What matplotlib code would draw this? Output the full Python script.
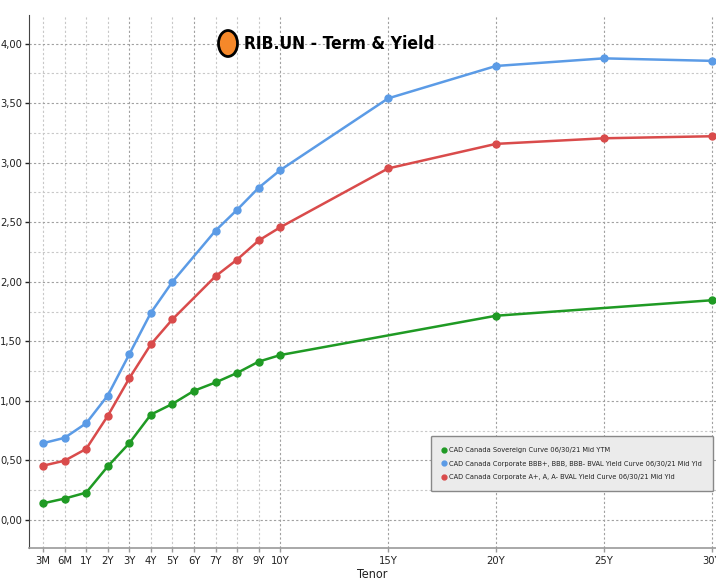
import matplotlib
matplotlib.use('Agg')
import matplotlib.pyplot as plt
from matplotlib import font_manager
from matplotlib.lines import Line2D
from matplotlib.patches import Ellipse

# tenor axis
tenors = ['3M', '6M', '1Y', '2Y', '3Y', '4Y', '5Y', '6Y', '7Y', '8Y', '9Y', '10Y', '15Y', '20Y', '25Y', '30Y']
tenor_pos = [0, 1, 2, 3, 4, 5, 6, 7, 8, 9, 10, 11, 16, 21, 26, 31]

# CAD Canada Sovereign
gov_tenors = ['3M', '6M', '1Y', '2Y', '3Y', '4Y', '5Y', '6Y', '7Y', '8Y', '9Y', '10Y', '20Y', '30Y']
gov_yld = [0.14, 0.18, 0.23, 0.45, 0.645, 0.885, 0.975, 1.085, 1.155, 1.235, 1.33, 1.385, 1.715, 1.845]

# corporate curves
corp_tenors = ['3M', '6M', '1Y', '2Y', '3Y', '4Y', '5Y', '7Y', '8Y', '9Y', '10Y', '15Y', '20Y', '25Y', '30Y']
bbb_yld = [0.645, 0.69, 0.812, 1.045, 1.392, 1.74, 2.0, 2.43, 2.605, 2.79, 2.938, 3.54, 3.812, 3.876, 3.855]
a_yld = [0.456, 0.498, 0.597, 0.874, 1.19, 1.475, 1.685, 2.047, 2.187, 2.347, 2.458, 2.952, 3.158, 3.205, 3.222]

labels = ['CAD Canada Sovereign Curve 06/30/21 Mid YTM',
          'CAD Canada Corporate BBB+, BBB, BBB- BVAL Yield Curve 06/30/21 Mid Yld',
          'CAD Canada Corporate A+, A, A- BVAL Yield Curve 06/30/21 Mid Yld']
colors = ['#1f9a24', '#5b9be6', '#d94b4b']

# look for a narrow face, otherwise shrink the text
narrow = None
for f in font_manager.fontManager.ttflist:
    if 'Narrow' in f.name or 'Condensed' in f.name or f.stretch in ('condensed', 'semi-condensed', 'extra-condensed'):
        if 'Mono' not in f.name and 'Serif' not in f.name:
            narrow = f
            break
if narrow is not None:
    plt.rcParams['font.family'] = [narrow.name, 'DejaVu Sans']
    plt.rcParams['font.stretch'] = narrow.stretch
    tick_fs, leg_fs, title_fs, lab_fs = 8, 5.3, 12.5, 9
else:
    plt.rcParams['font.family'] = ['Liberation Sans', 'DejaVu Sans']
    tick_fs, leg_fs, title_fs, lab_fs = 6.8, 4.8, 11, 8.5

pos = dict(zip(tenors, tenor_pos))

fig = plt.figure(figsize=(7.16, 5.8), dpi=100)
ax = fig.add_axes([29/716, 1-548/580, 1-29/716, (548-15)/580])

# grid
major_v = ['3Y', '6Y', '10Y', '15Y', '20Y', '25Y', '30Y']
for t in tenors:
    c = '#a0a0a0' if t in major_v else '#c8c8c8'
    ax.axvline(pos[t], color=c, lw=0.8, ls=(0, (2, 2)), zorder=0)
for i in range(0, 17):
    c = '#a0a0a0' if i % 2 == 0 else '#c8c8c8'
    ax.axhline(i * 0.25, color=c, lw=0.8, ls=(0, (2, 2)), zorder=0)

series = [(gov_tenors, gov_yld), (corp_tenors, bbb_yld), (corp_tenors, a_yld)]
for (tt, yy), col in zip(series, colors):
    xs = [pos[t] for t in tt]
    ax.plot(xs, yy, color=col, lw=1.8, marker='o', markersize=5, zorder=3)

ax.set_xlim(-0.65, 31.2)
ax.set_ylim(-0.235, 4.24)
ax.set_xticks(tenor_pos)
ax.set_xticklabels(tenors)
yt = [0, 0.5, 1.0, 1.5, 2.0, 2.5, 3.0, 3.5, 4.0]
ax.set_yticks(yt)
ax.set_yticklabels([('%.2f' % v).replace('.', ',') for v in yt])
ax.tick_params(axis='both', labelsize=tick_fs, colors='#222222', length=3, width=1, pad=2)
ax.tick_params(axis='x', length=3, color='#999999', pad=3)
ax.spines['top'].set_visible(False)
ax.spines['right'].set_visible(False)
ax.spines['left'].set_color('#444444')
ax.spines['bottom'].set_color('#999999')
ax.spines['bottom'].set_linewidth(1.2)
ax.set_xlabel('Tenor', fontsize=lab_fs, color='#222222', labelpad=1)

handles = [Line2D([], [], color=c, marker='o', ls='none', markersize=3.5) for c in colors]
leg = fig.legend(handles, labels, loc='upper left', bbox_to_anchor=(431/716, 1-436/580),
                 fontsize=leg_fs, frameon=True, fancybox=True, handlelength=0.6, handletextpad=0.4,
                 borderpad=1.5, labelspacing=1.0, borderaxespad=0)
leg.get_frame().set_facecolor('#ebebeb')
leg.get_frame().set_edgecolor('#888888')
leg.get_frame().set_alpha(1)
for txt in leg.get_texts():
    txt.set_color('#222222')

# title badge
fig.add_artist(Ellipse((228/716, 1-43.5/580), 19/716, 26/580, transform=fig.transFigure,
                       facecolor='#f5882a', edgecolor='black', lw=2, zorder=5))
fig.text(244/716, 1-44/580, 'RIB.UN - Term & Yield', fontsize=title_fs, fontweight='bold',
         va='center', ha='left', color='black')

fig.savefig('out.png', dpi=100)
